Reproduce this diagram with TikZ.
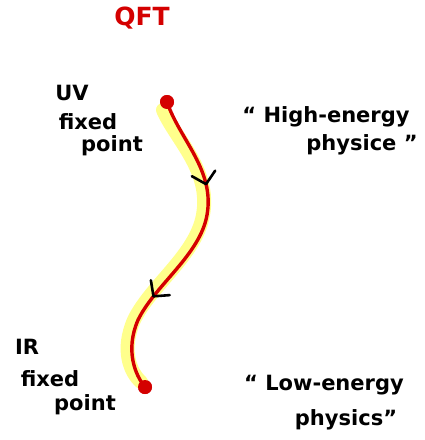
\documentclass[tikz,border=0pt]{standalone}
\usepackage{fontspec}
\setmainfont{DejaVu Sans}
\usetikzlibrary{decorations.markings,arrows.meta}
\definecolor{hired}{HTML}{D40000}
\definecolor{hiyel}{HTML}{FFFF8C}
\tikzset{
  lbl/.style={font=\fontsize{21}{24}\selectfont\bfseries, text=black, inner sep=0pt},
  dotpt/.style={circle, fill=hired, minimum size=14pt, inner sep=0pt},
  chev/.style={draw=black, line width=2.6pt, line cap=round, line join=round},
  flow/.style={draw=hired, line width=3.4pt,
    postaction={decorate, decoration={markings,
      mark=at position 0.285 with {\draw[chev] (-11pt,-12pt) -- (0pt,0pt) -- (-11pt,12pt);},
      mark=at position 0.69 with {\draw[chev] (-11pt,-12pt) -- (0pt,0pt) -- (-11pt,12pt);}}}},
  glow/.style={draw=hiyel, line width=14pt, line cap=round}
}
\begin{document}
\begin{tikzpicture}[x=1pt,y=-1pt]
\useasboundingbox (0,0) rectangle (425,440);
\fill[white] (0,0) rectangle (425,440);
\node[lbl, text=hired, font=\fontsize{25}{28}\selectfont\bfseries] (qft) at (142,18) {QFT};
\node[dotpt] (uv) at (167,102) {};
\node[dotpt] (ir) at (145,387) {};
\draw[glow] (163,110) .. controls (176,140) and (211,170) .. (203,215) .. controls (196,255) and (151,285) .. (134,320) .. controls (121,350) and (130,372) .. (141,382);
\draw[flow] (uv.center) .. controls (180,140) and (215,170) .. (207,215) .. controls (200,255) and (155,285) .. (138,320) .. controls (125,350) and (135,375) .. (ir.center);
\node[dotpt] at (uv) {};
\node[dotpt] at (ir) {};
\node[lbl] (uv1) at (72,93) {UV};
\node[lbl] (uv2) at (88,122) {fixed};
\node[lbl] (uv3) at (112,146) {point};
\node[lbl] (ir1) at (27,347) {IR};
\node[lbl] (ir2) at (50,379) {fixed};
\node[lbl] (ir3) at (85,405) {point};
\node[lbl] (he1) at (326,117) {`` High-energy};
\node[lbl] (he2) at (362,145) {physice ''};
\node[lbl] (le1) at (324,385) {`` Low-energy};
\node[lbl] (le2) at (346,420) {physics''};
\end{tikzpicture}
\end{document}
